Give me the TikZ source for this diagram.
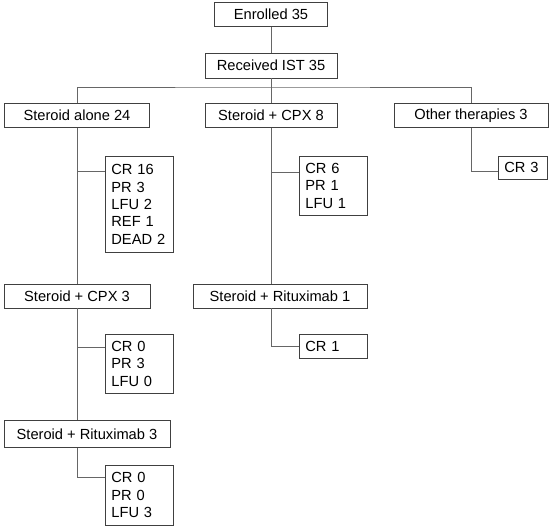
\documentclass[tikz,border=0pt]{standalone}
\usepackage{fontspec}
\setmainfont{Liberation Sans}
\usetikzlibrary{calc}

\begin{document}
\begin{tikzpicture}[x=0.75pt, y=-0.75pt,
		font=\fontsize{11}{13.1}\selectfont,
		arm/.style = {rectangle, draw=black!75, semithick, inner sep=0pt, minimum height=17.5pt},
		res/.style = {rectangle, draw=black!75, semithick, align=left, inner xsep=4.5pt, inner ysep=0pt, text width=42pt, anchor=north west},
		ln/.style = {draw=black!60, semithick},
		]
		\useasboundingbox (0,0) rectangle (550,528);
		
		%Nodes
		\node[arm, minimum width=84.75pt]	(enr)	at	(271, 14.5)	{Enrolled 35};
		\node[arm, minimum width=99pt, minimum height=18.75pt]	(ist)	at	(271, 65.5)	{Received IST 35};
		\node[arm, minimum width=108.75pt]	(sal)	at	(77, 115.5)	{Steroid alone 24};
		\node[arm, minimum width=99pt]	(cpx)	at	(271, 115.5)	{Steroid + CPX 8};
		\node[arm, minimum width=115.5pt]	(oth)	at	(471, 115.5)	{Other therapies 3};
		\node[arm, minimum width=109.5pt, minimum height=18pt]	(cpxb)	at	(77, 296)	{Steroid + CPX 3};
		\node[arm, minimum width=130.5pt, minimum height=18pt]	(ritb)	at	(280, 296)	{Steroid + Rituximab 1};
		\node[arm, minimum width=124.5pt, minimum height=20.25pt]	(ritc)	at	(87, 434)	{Steroid + Rituximab 3};
		
		\node[res, minimum height=72pt]	(o1)	at	(105, 156)	{CR 16\\PR 3\\LFU 2\\REF 1\\DEAD 2};
		\node[res, minimum height=44.25pt]	(o2)	at	(299, 156)	{CR 6\\PR 1\\LFU 1};
		\node[res, text width=27.75pt, minimum height=17.25pt]	(o3)	at	(498, 156)	{CR 3};
		\node[res, minimum height=44.25pt]	(o4)	at	(105, 334)	{CR 0\\PR 3\\LFU 0};
		\node[res, minimum height=18pt]	(o5)	at	(299, 334)	{CR 1};
		\node[res, minimum height=45pt]	(o6)	at	(105, 465)	{CR 0\\PR 0\\LFU 3};
		
		\coordinate	(bar)	at	(271, 87);
		
		%Lines
		\draw[ln]	(enr)	--	(ist);
		\draw[ln]	(ist)	--	(cpx);
		\draw[ln]	(sal)	|-	(bar)	-|	(oth);
		\draw[ln]	(sal)	--	(cpxb);
		\draw[ln]	(cpxb)	--	(cpxb |- ritc.north);
		\draw[ln]	(cpx)	--	(cpx |- ritb.north);
		\draw[ln]	($(o1.north west)+(0,15)$)	-|	(sal);
		\draw[ln]	($(o2.north west)+(0,16)$)	-|	(cpx);
		\draw[ln]	($(o3.north west)+(0,15)$)	-|	(oth);
		\draw[ln]	($(o4.north west)+(0,13)$)	-|	(cpxb);
		\draw[ln]	($(o5.north west)+(0,12)$)	-|	(cpx |- ritb.south);
		\draw[ln]	($(o6.north west)+(0,12)$)	-|	(cpxb |- ritc.south);
		
	\end{tikzpicture}
\end{document}
